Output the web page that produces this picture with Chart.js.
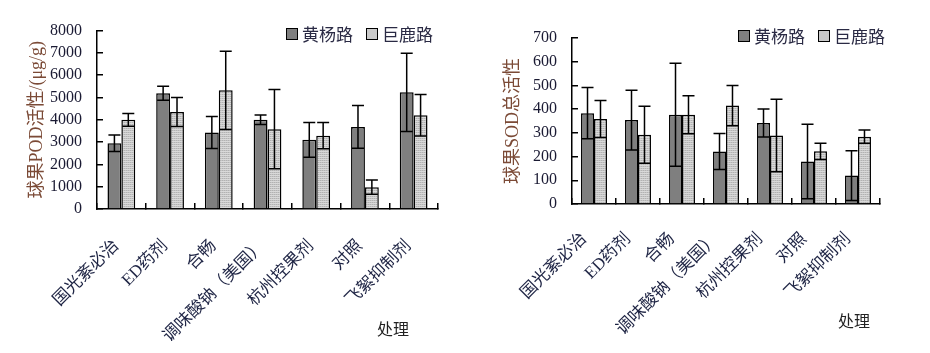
<!DOCTYPE html>
<html>
<head>
<meta charset="utf-8">
<script src="https://cdn.jsdelivr.net/npm/chart.js@4/dist/chart.umd.min.js"></script>
<style>
    body { margin: 0; background: #fff; }
    #wrap { position: relative; width: 930px; height: 353px; overflow: hidden; }
    canvas { position: absolute; top: 0; }
    .legend { position: absolute; display: flex; align-items: center; font: 17px "Liberation Serif", "Noto Sans CJK SC", serif; color: #2a2a44; white-space: nowrap; }
    .legend .box { width: 10px; height: 10px; border: 1px solid #000; margin-right: 4px; }
    .legend .txt { margin-right: 13px; }
    .axis-name { position: absolute; font: 16px "Liberation Serif", "Noto Sans CJK SC", serif; color: #222; }
</style>
</head>
<body>
<div id="wrap">
    <canvas id="podChart" width="465" height="353" style="left:0"></canvas>
    <canvas id="sodChart" width="465" height="353" style="left:465px"></canvas>

    <div class="legend" style="left:286px; top:21px">
        <span class="box" style="background:#7f7f7f"></span><span class="txt">黄杨路</span>
        <span class="box" style="background:#cacaca"></span><span class="txt">巨鹿路</span>
    </div>
    <div class="legend" style="left:738px; top:23px">
        <span class="box" style="background:#7f7f7f"></span><span class="txt">黄杨路</span>
        <span class="box" style="background:#cacaca"></span><span class="txt">巨鹿路</span>
    </div>

    <div class="axis-name" style="left:377px; top:316px">处理</div>
    <div class="axis-name" style="left:838px; top:308px">处理</div>
</div>

<script>
const treatments = ["国光紊必治", "ED药剂", "合畅", "调味酸钠（美国）", "杭州控果剂", "对照", "飞絮抑制剂"];
const seriesNames = ["黄杨路", "巨鹿路"];

// POD activity (μg/g)
const podHuangyang = [2950, 5190, 3430, 4000, 3100, 3680, 5230];
const podHuangyangErr = [370, 310, 720, 210, 780, 960, 1750];
const podJulu = [4000, 4350, 5320, 3580, 3290, 980, 4200];
const podJuluErr = [285, 650, 1750, 1780, 590, 320, 930];

// SOD total activity
const sodHuangyang = [383, 354, 376, 221, 342, 179, 120];
const sodHuangyangErr = [108, 126, 217, 76, 59, 157, 105];
const sodJulu = [358, 292, 376, 415, 289, 222, 284];
const sodJuluErr = [78, 120, 80, 85, 153, 34, 28];

const podTicks = { min: 0, max: 8000, step: 1000 };
const sodTicks = { min: 0, max: 700, step: 100 };

const serifFont = "'Liberation Serif', 'Noto Sans CJK SC', serif";

function makeDotPattern() {
    const c = document.createElement("canvas");
    c.width = 4;
    c.height = 2;
    const g = c.getContext("2d");
    g.fillStyle = "#d9d9d9";
    g.fillRect(0, 0, 4, 2);
    g.fillStyle = "#b2b2b2";
    g.fillRect(0, 0, 1, 1);
    g.fillRect(2, 0, 1, 1);
    g.fillStyle = "#c4c4c4";
    g.fillRect(1, 0, 1, 1);
    g.fillRect(3, 0, 1, 1);
    return g.createPattern(c, "repeat");
}

const errorBarPlugin = {
    id: "errorBars",
    afterDatasetsDraw(chart) {
        const ctx = chart.ctx;
        const yScale = chart.scales.y;
        ctx.save();
        ctx.strokeStyle = "#000";
        ctx.lineWidth = 1.5;
        chart.data.datasets.forEach((ds, i) => {
            const meta = chart.getDatasetMeta(i);
            meta.data.forEach((bar, j) => {
                const v = ds.data[j];
                const e = ds.errors[j];
                const yTop = yScale.getPixelForValue(v + e);
                const yBottom = yScale.getPixelForValue(v - e);
                const x = bar.x;
                const cap = 6;
                ctx.beginPath();
                ctx.moveTo(x, yTop);
                ctx.lineTo(x, yBottom);
                ctx.moveTo(x - cap, yTop);
                ctx.lineTo(x + cap, yTop);
                ctx.moveTo(x - cap, yBottom);
                ctx.lineTo(x + cap, yBottom);
                ctx.stroke();
            });
        });
        ctx.restore();
    }
};

function buildChart(canvasId, opts) {
    const pattern = makeDotPattern();
    return new Chart(document.getElementById(canvasId), {
        type: "bar",
        data: {
            labels: treatments,
            datasets: [
                {
                    label: seriesNames[0],
                    data: opts.first,
                    errors: opts.firstErr,
                    backgroundColor: "#7f7f7f",
                    borderColor: "#000",
                    borderWidth: 1.5
                },
                {
                    label: seriesNames[1],
                    data: opts.second,
                    errors: opts.secondErr,
                    backgroundColor: pattern,
                    borderColor: "#000",
                    borderWidth: 1.5
                }
            ]
        },
        options: {
            responsive: false,
            animation: false,
            categoryPercentage: opts.catPct,
            barPercentage: 1.0,
            layout: {
                padding: { top: opts.top, right: opts.right, left: 0, bottom: 0 }
            },
            plugins: {
                legend: { display: false },
                tooltip: { enabled: false }
            },
            scales: {
                x: {
                    grid: {
                        drawOnChartArea: false,
                        tickLength: -6,
                        color: "#000",
                        lineWidth: 1.5
                    },
                    border: { color: "#000", width: 1.5 },
                    ticks: {
                        autoSkip: false,
                        minRotation: 45,
                        maxRotation: 45,
                        padding: opts.labelPad,
                        labelOffset: opts.labelShift,
                        color: "#1e2444",
                        font: { family: serifFont, size: 17 }
                    },
                    afterFit(scale) {
                        scale.height = opts.xHeight;
                    }
                },
                y: {
                    min: opts.ticks.min,
                    max: opts.ticks.max,
                    grid: {
                        drawOnChartArea: false,
                        tickLength: -6,
                        color: "#000",
                        lineWidth: 1.5
                    },
                    border: { color: "#000", width: 1.5 },
                    ticks: {
                        stepSize: opts.ticks.step,
                        padding: 21,
                        color: "#1a1a33",
                        font: { family: serifFont, size: 16 },
                        callback: value => String(value)
                    },
                    title: {
                        display: true,
                        text: opts.yTitle,
                        color: "#7b4a36",
                        padding: { top: opts.titlePad, bottom: 0 },
                        font: { family: serifFont, size: 18 }
                    },
                    afterFit(scale) {
                        scale.width = opts.yWidth;
                    }
                }
            }
        },
        plugins: [errorBarPlugin]
    });
}

buildChart("podChart", {
    first: podHuangyang,
    firstErr: podHuangyangErr,
    second: podJulu,
    secondErr: podJuluErr,
    ticks: podTicks,
    yTitle: "球果POD活性/(μg/g)",
    catPct: 0.57,
    top: 27,
    right: 27,
    xHeight: 144,
    yWidth: 97,
    titlePad: 26,
    labelPad: 33,
    labelShift: -5
});

buildChart("sodChart", {
    first: sodHuangyang,
    firstErr: sodHuangyangErr,
    second: sodJulu,
    secondErr: sodJuluErr,
    ticks: sodTicks,
    yTitle: "球果SOD总活性",
    catPct: 0.59,
    top: 38,
    right: 50,
    xHeight: 149,
    yWidth: 107,
    titlePad: 37,
    labelPad: 31,
    labelShift: -10
});
</script>
</body>
</html>
